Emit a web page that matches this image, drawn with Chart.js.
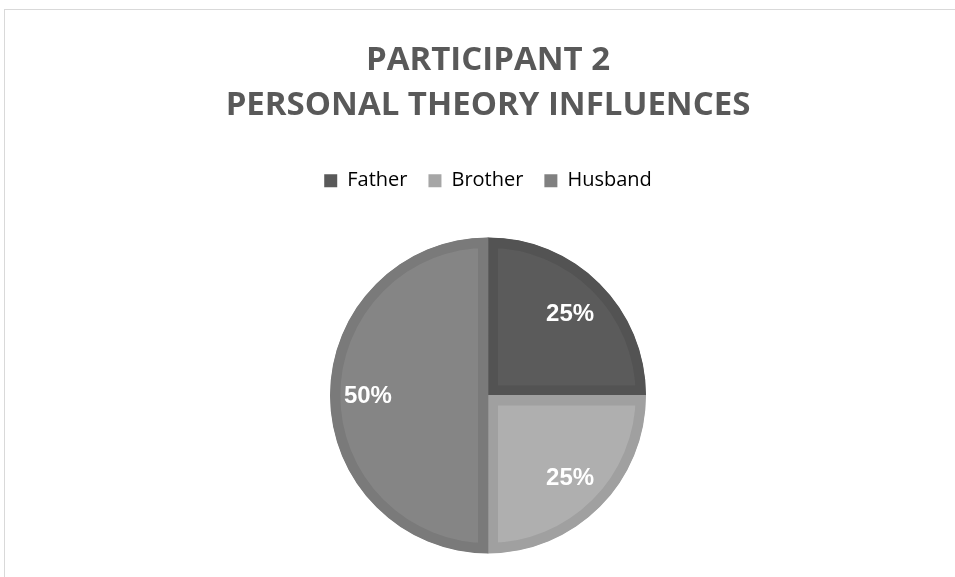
<!DOCTYPE html>
<html>
<head>
<meta charset="utf-8">
<script src="https://cdn.jsdelivr.net/npm/chart.js@4/dist/chart.umd.min.js"></script>
<style>
  html, body { margin: 0; padding: 0; background: #fff; }
  #wrap { position: relative; width: 955px; height: 577px; overflow: hidden; }
  #frame { position: absolute; left: 4px; top: 9px; width: 1000px; height: 600px;
           border-top: 1px solid #d9d9d9; border-left: 1px solid #d9d9d9; }
  canvas { position: absolute; left: 0; top: 0; }
</style>
</head>
<body>
<div id="wrap">
  <div id="frame"></div>
  <canvas id="pie" width="955" height="620"></canvas>
</div>
<script>
// dados do gráfico
const labels = ["Father", "Brother", "Husband"];
const valores = [25, 25, 50];
const titulo = ["PARTICIPANT 2", "PERSONAL THEORY INFLUENCES"];

const corFundo = ["#5b5b5b", "#afafaf", "#858585"];
const corBorda = ["#535353", "#a0a0a0", "#7a7a7a"];
const corLegenda = ["#595959", "#a6a6a6", "#808080"];

// rótulos de porcentagem dentro das fatias
const rotulosPlugin = {
  id: "rotulos",
  afterDatasetsDraw(chart) {
    const ctx = chart.ctx;
    const meta = chart.getDatasetMeta(0);
    const total = valores.reduce((a, b) => a + b, 0);
    ctx.save();
    ctx.font = "bold 24px 'Liberation Sans', Arial, sans-serif";
    ctx.fillStyle = "#ffffff";
    ctx.textAlign = "center";
    ctx.textBaseline = "middle";
    meta.data.forEach((arc, i) => {
      const p = arc.getProps(["x", "y", "startAngle", "endAngle", "outerRadius"], true);
      const meio = (p.startAngle + p.endAngle) / 2;
      const f = valores[i] / total >= 0.5 ? 0.76 : 0.735;
      const x = p.x + Math.cos(meio) * p.outerRadius * f;
      const y = p.y + Math.sin(meio) * p.outerRadius * f;
      ctx.fillText(Math.round(valores[i] / total * 100) + "%", x, y + 1);
    });
    ctx.restore();
  }
};

new Chart(document.getElementById("pie").getContext("2d"), {
  type: "pie",
  data: {
    labels: labels,
    datasets: [{
      data: valores,
      backgroundColor: corFundo,
      borderColor: corBorda,
      borderWidth: 10,
      borderAlign: "inner",
      hoverOffset: 0
    }]
  },
  options: {
    responsive: false,
    animation: false,
    radius: 158,
    layout: { padding: { top: 38, left: 21, right: 0, bottom: 30 } },
    plugins: {
      title: {
        display: true,
        text: titulo,
        color: "#595959",
        font: { family: "'Open Sans', sans-serif", size: 33, weight: "bold", lineHeight: 1.36 },
        padding: { top: 0, bottom: 22 }
      },
      legend: {
        position: "top",
        labels: {
          color: "#595959",
          font: { family: "'Open Sans', sans-serif", size: 20 },
          boxWidth: 13,
          boxHeight: 13,
          padding: 21,
          generateLabels: () => labels.map((l, i) => ({
            text: l, fillStyle: corLegenda[i], strokeStyle: corLegenda[i], lineWidth: 0, index: i
          }))
        }
      },
      tooltip: { enabled: false }
    }
  },
  plugins: [rotulosPlugin]
});
</script>
</body>
</html>
